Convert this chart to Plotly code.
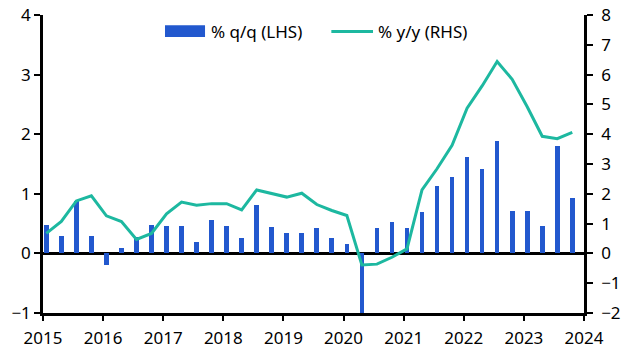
import plotly.graph_objects as go

quarters = [f"{y}Q{q}" for y in range(2015, 2024) for q in range(1, 5)]

qq = [0.47, 0.29, 0.88, 0.29,
      -0.19, 0.09, 0.27, 0.47,
      0.46, 0.46, 0.19, 0.56,
      0.46, 0.26, 0.81, 0.45,
      0.35, 0.35, 0.43, 0.26,
      0.16, -1.0, 0.43, 0.53,
      0.43, 0.69, 1.13, 1.28,
      1.61, 1.41, 1.89, 0.71,
      0.71, 0.46, 1.81, 0.93]

yy = [0.67, 1.07, 1.76, 1.93,
      1.26, 1.07, 0.47, 0.67,
      1.33, 1.72, 1.62, 1.67,
      1.67, 1.46, 2.13, 2.00,
      1.89, 2.02, 1.64, 1.44,
      1.27, -0.39, -0.36, -0.13,
      0.15, 2.13, 2.84, 3.63,
      4.87, 5.62, 6.44, 5.84,
      4.92, 3.93, 3.85, 4.06]

year_ticks = list(range(2015, 2025))
left_ticks = [-1, 0, 1, 2, 3, 4]
right_ticks = [-2, -1, 0, 1, 2, 3, 4, 5, 6, 7, 8]

BLUE = "#2258CE"
TEAL = "#1DB8A0"

# numeric time position of each quarter (year fraction)
xpos = [int(q[:4]) + (int(q[-1]) - 1) * 0.25 + 0.055 for q in quarters]

fig = go.Figure()
fig.add_trace(go.Bar(x=xpos, y=qq, name="% q/q (LHS)", marker_color=BLUE,
                     marker_line_width=0, width=0.078, yaxis="y", showlegend=False))
fig.add_trace(go.Scatter(x=xpos, y=yy, name="% y/y (RHS)", mode="lines",
                         line=dict(color=TEAL, width=3), yaxis="y2", showlegend=False))

FONT = "Noto Sans"
axis_common = dict(showgrid=False, showline=True, linecolor="black", linewidth=2.5,
                   ticks="outside", tickcolor="black", tickwidth=2, automargin=False,
                   tickfont=dict(family=FONT, size=17, color="black"))

fig.update_layout(
    width=632, height=356,
    margin=dict(l=43, r=48, t=15, b=43, autoexpand=False),
    paper_bgcolor="white", plot_bgcolor="white",
    bargap=0,
    xaxis=dict(range=[2015, 2024], tickvals=year_ticks, ticktext=[str(y) for y in year_ticks],
               ticklen=5, ticklabelstandoff=3, zeroline=False, **axis_common),
    yaxis=dict(range=[-1, 4], tickvals=left_ticks, ticklen=6, zeroline=True,
               zerolinecolor="black", zerolinewidth=2.5, **axis_common),
    yaxis2=dict(range=[-2, 8], tickvals=right_ticks, ticklen=6, overlaying="y", side="right",
                ticklabelstandoff=5, zeroline=False, anchor="x", **axis_common),
    showlegend=False,
)

# legend drawn as key shapes + labels in paper coordinates
fig.add_shape(type="rect", xref="paper", yref="paper", x0=0.2255, x1=0.2995, y0=0.926, y1=0.966,
              fillcolor=BLUE, line_width=0)
fig.add_shape(type="line", xref="paper", yref="paper", x0=0.533, x1=0.610, y0=0.945, y1=0.945,
              line=dict(color=TEAL, width=3))
fig.add_annotation(xref="paper", yref="paper", x=0.307, y=0.945, xanchor="left", yanchor="middle",
                   text="% q/q (LHS)", showarrow=False, font=dict(family=FONT, size=17, color="black"))
fig.add_annotation(xref="paper", yref="paper", x=0.615, y=0.945, xanchor="left", yanchor="middle",
                   text="% y/y (RHS)", showarrow=False, font=dict(family=FONT, size=17, color="black"))

fig.write_html("out.html", post_script="document.body.style.margin='0';",
               config={"displayModeBar": False})
